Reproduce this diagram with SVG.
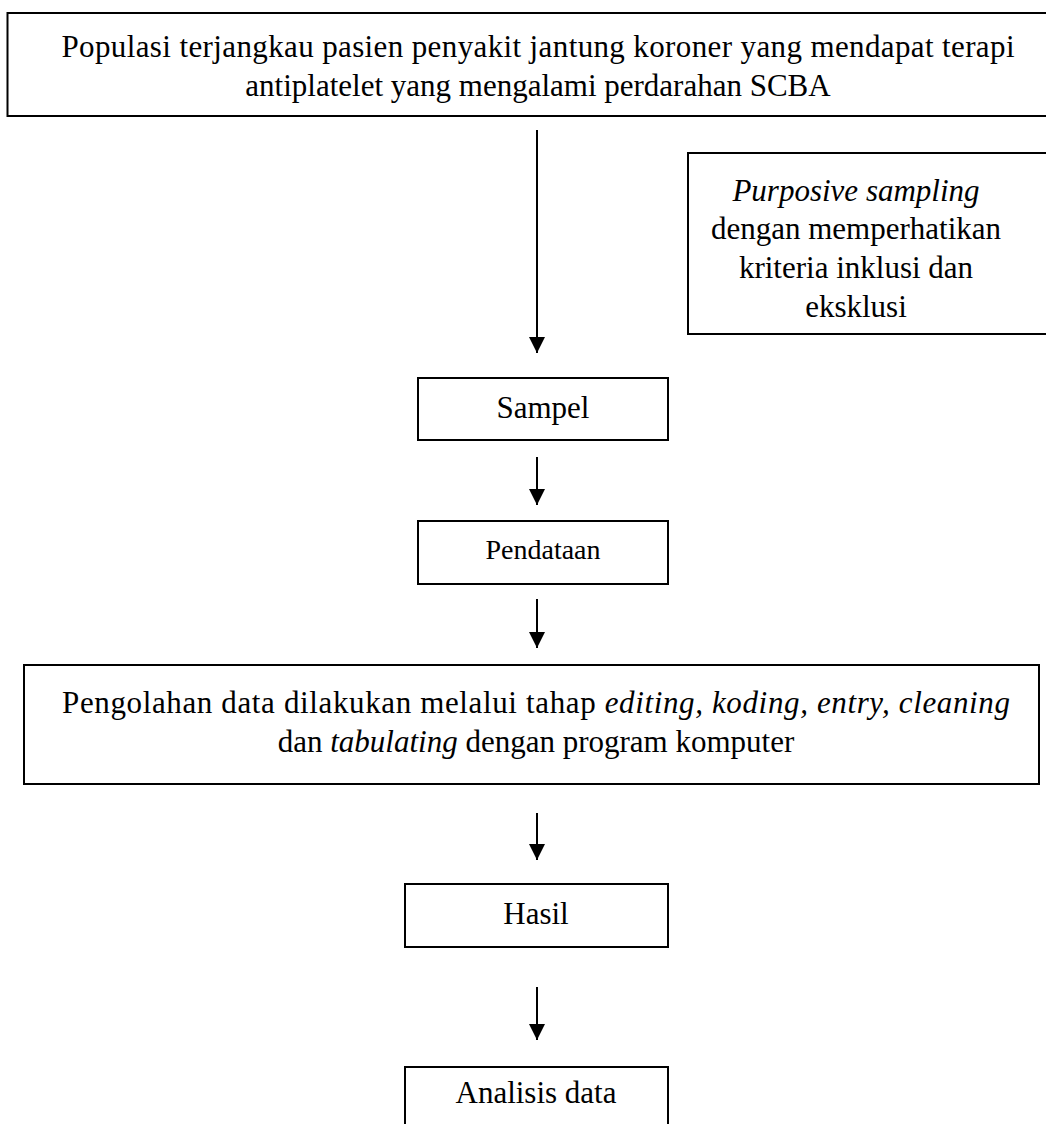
<svg xmlns="http://www.w3.org/2000/svg" width="1046" height="1124" viewBox="0 0 1046 1124">
<defs>
<marker id="ah" markerUnits="userSpaceOnUse" markerWidth="16" markerHeight="16" refX="16" refY="8" orient="auto" viewBox="0 0 16 16">
<path d="M0,0 L16,8 L0,16 z" fill="#000"/>
</marker>
<style>
.box{fill:#fff;stroke:#000;stroke-width:2}
.t{font-family:"Liberation Serif","Times New Roman",serif;font-size:31px;fill:#000;text-anchor:middle}
.s{font-size:28px}
.i{font-style:italic}
.c{stroke:#000;stroke-width:2;fill:none;marker-end:url(#ah)}
</style>
</defs>
<rect width="1046" height="1124" fill="#fff"/>
<g id="connectors">
<line class="c" x1="537" y1="130" x2="537" y2="353"/>
<line class="c" x1="537" y1="457" x2="537" y2="505"/>
<line class="c" x1="537" y1="599" x2="537" y2="648"/>
<line class="c" x1="537" y1="813" x2="537" y2="860"/>
<line class="c" x1="537" y1="987" x2="537" y2="1040"/>
</g>
<g id="populasi">
<rect class="box" x="7.5" y="13" width="1045" height="103"/>
<text class="t" x="538" y="57" textLength="953" lengthAdjust="spacing">Populasi terjangkau pasien penyakit jantung koroner yang mendapat terapi</text>
<text class="t" x="538" y="96">antiplatelet yang mengalami perdarahan SCBA</text>
</g>
<g id="purposive">
<rect class="box" x="688" y="153" width="362" height="181"/>
<text class="t" x="856" y="201"><tspan class="i">Purposive sampling</tspan></text>
<text class="t" x="856" y="239">dengan memperhatikan</text>
<text class="t" x="856" y="278">kriteria inklusi dan</text>
<text class="t" x="856" y="317">eksklusi</text>
</g>
<g id="sampel">
<rect class="box" x="418" y="378" width="250" height="62"/>
<text class="t" x="543" y="418">Sampel</text>
</g>
<g id="pendataan">
<rect class="box" x="418" y="521" width="250" height="63"/>
<text class="t s" x="543" y="559">Pendataan</text>
</g>
<g id="pengolahan">
<rect class="box" x="24" y="665" width="1015" height="119"/>
<text class="t" x="536" y="713" textLength="948" lengthAdjust="spacing">Pengolahan data dilakukan melalui tahap <tspan class="i">editing, koding, entry, cleaning</tspan></text>
<text class="t" x="536" y="752">dan <tspan class="i">tabulating</tspan> dengan program komputer</text>
</g>
<g id="hasil">
<rect class="box" x="405" y="884" width="263" height="63"/>
<text class="t" x="536" y="924">Hasil</text>
</g>
<g id="analisis">
<rect class="box" x="405" y="1067" width="263" height="70"/>
<text class="t" x="536" y="1103">Analisis data</text>
</g>
</svg>
